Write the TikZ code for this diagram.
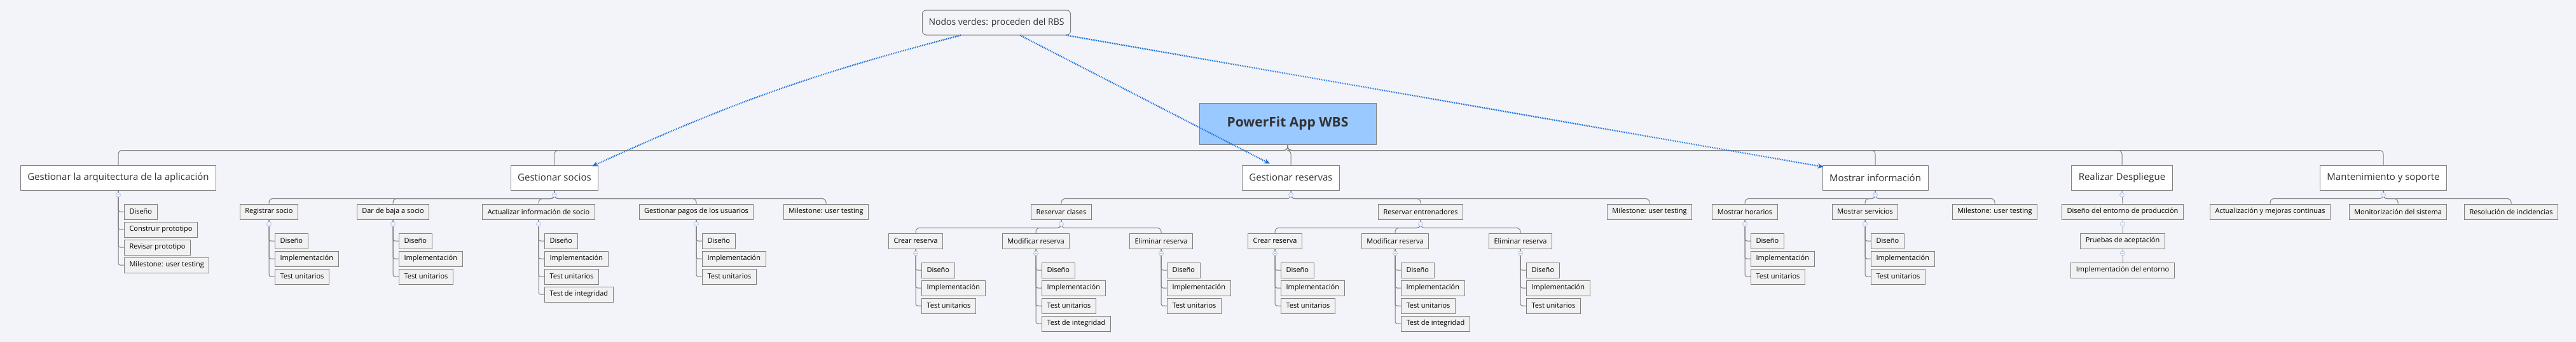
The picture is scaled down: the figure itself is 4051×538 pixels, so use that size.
\documentclass[tikz,border=0pt]{standalone}
\usepackage{fontspec}
\setmainfont{Open Sans}
\usetikzlibrary{arrows.meta}
\definecolor{bg}{HTML}{F3F4F9}
\definecolor{bord}{HTML}{7F7F7F}
\definecolor{leaffill}{HTML}{F1F1F1}
\definecolor{rootfill}{HTML}{99C9FF}
\definecolor{txt}{HTML}{333333}
\definecolor{dep}{HTML}{1A6FD8}
\definecolor{tog}{HTML}{A9BEEB}
\tikzset{
  base/.style={draw=bord,line width=1pt,inner sep=0pt},
  root/.style={base,fill=rootfill,minimum width=278pt,minimum height=65pt,font=\fontsize{21}{25}\selectfont\bfseries,text=txt},
  top/.style={base,fill=white,minimum height=39pt,inner xsep=11pt,font=\fontsize{15}{18}\selectfont,text=txt},
  mid/.style={base,fill=leaffill,minimum height=24pt,inner xsep=8pt,font=\fontsize{11}{13}\selectfont},
  leaf/.style={mid,anchor=west},
  note/.style={base,fill=bg,rounded corners=6pt,minimum height=39pt,inner xsep=10pt,font=\fontsize{14}{17}\selectfont,text=txt},
  conn/.style={draw=bord,line width=1pt,rounded corners=6pt},
  tg/.style={circle,draw=tog,fill=white,line width=0.8pt,minimum size=7pt,inner sep=0pt,
    path picture={\draw[tog,line width=0.7pt] ([xshift=-1.8pt]path picture bounding box.center)--([xshift=1.8pt]path picture bounding box.center);}},
  depa/.style={draw=dep,line width=2.2pt,dash pattern=on 1.4pt off 1.4pt,-{Stealth[length=9pt,width=8pt]}}
}
\newcommand\leafset[3]{%
  \path (#1.south) ++(9,0) coordinate (#1-x);
  \foreach \t [count=\i] in {#3}{%
    \node[leaf] (#1-\i) at (#1-x |- 0,{#2+(\i-1)*28}) {\t};
    \draw[conn,rounded corners=3pt] (#1.south) |- (#1-\i.west);
  }%
}
\begin{document}
\begin{tikzpicture}[x=1pt,y=-1pt]
\fill[bg] (0,0) rectangle (4051,538);
\useasboundingbox (0,0) rectangle (4051,538);
% nodes
\node[root] (root) at (2025,194.5) {PowerFit App WBS};
\node[note] (nodos) at (1567,35.5) {Nodos verdes: proceden del RBS};
\node[top] (T1) at (186,279.5) {Gestionar la arquitectura de la aplicación};
\node[top] (T2) at (872,279.5) {Gestionar socios};
\node[top] (T3) at (2030,279.5) {Gestionar reservas};
\node[top] (T4) at (2949,279.5) {Mostrar información};
\node[top] (T5) at (3337,279.5) {Realizar Despliegue};
\node[top] (T6) at (3748,279.5) {Mantenimiento y soporte};
\foreach \c in {T1,T2,T3,T4,T5,T6}{\draw[conn] (root.south) -- ++(0,9) -| (\c.north);}
% arquitectura
\leafset{T1}{333}{Diseño,Construir prototipo,Revisar prototipo,Milestone: user testing}
% socios
\node[mid] (S1) at (423,333) {Registrar socio};
\node[mid] (S2) at (618,333) {Dar de baja a socio};
\node[mid] (S3) at (847,333) {Actualizar información de socio};
\node[mid] (S4) at (1095,333) {Gestionar pagos de los usuarios};
\node[mid] (S5) at (1299,333) {Milestone: user testing};
\foreach \c in {S1,S2,S3,S4,S5}{\draw[conn] (T2.south) -- ++(0,13) -| (\c.north);}
\leafset{S1}{379}{Diseño,Implementación,Test unitarios}
\leafset{S2}{379}{Diseño,Implementación,Test unitarios}
\leafset{S3}{379}{Diseño,Implementación,Test unitarios,Test de integridad}
\leafset{S4}{379}{Diseño,Implementación,Test unitarios}
% reservas
\node[mid] (R1) at (1669,333) {Reservar clases};
\node[mid] (R2) at (2234,333) {Reservar entrenadores};
\node[mid] (R3) at (2594,333) {Milestone: user testing};
\foreach \c in {R1,R2,R3}{\draw[conn] (T3.south) -- ++(0,13) -| (\c.north);}
\node[mid] (R11) at (1440,379) {Crear reserva};
\node[mid] (R12) at (1629,379) {Modificar reserva};
\node[mid] (R13) at (1826,379) {Eliminar reserva};
\node[mid] (R21) at (2005,379) {Crear reserva};
\node[mid] (R22) at (2194,379) {Modificar reserva};
\node[mid] (R23) at (2391,379) {Eliminar reserva};
\foreach \c in {R11,R12,R13}{\draw[conn] (R1.south) -- ++(0,13) -| (\c.north);}
\foreach \c in {R21,R22,R23}{\draw[conn] (R2.south) -- ++(0,13) -| (\c.north);}
\leafset{R11}{425}{Diseño,Implementación,Test unitarios}
\leafset{R12}{425}{Diseño,Implementación,Test unitarios,Test de integridad}
\leafset{R13}{425}{Diseño,Implementación,Test unitarios}
\leafset{R21}{425}{Diseño,Implementación,Test unitarios}
\leafset{R22}{425}{Diseño,Implementación,Test unitarios,Test de integridad}
\leafset{R23}{425}{Diseño,Implementación,Test unitarios}
% info
\node[mid] (I1) at (2744,333) {Mostrar horarios};
\node[mid] (I2) at (2933,333) {Mostrar servicios};
\node[mid] (I3) at (3137,333) {Milestone: user testing};
\foreach \c in {I1,I2,I3}{\draw[conn] (T4.south) -- ++(0,13) -| (\c.north);}
\leafset{I1}{379}{Diseño,Implementación,Test unitarios}
\leafset{I2}{379}{Diseño,Implementación,Test unitarios}
% despliegue
\node[mid] (D1) at (3338,333) {Diseño del entorno de producción};
\node[mid] (D2) at (3338,379) {Pruebas de aceptación};
\node[mid] (D3) at (3338,425) {Implementación del entorno};
\draw[conn] (T5.south) -- (D1.north);
\draw[conn] (D1.south) -- (D2.north);
\draw[conn] (D2.south) -- (D3.north);
% mantenimiento
\node[mid] (M1) at (3570,333) {Actualización y mejoras continuas};
\node[mid] (M2) at (3771,333) {Monitorización del sistema};
\node[mid] (M3) at (3949,333) {Resolución de incidencias};
\foreach \c in {M1,M2,M3}{\draw[conn] (T6.south) -- ++(0,13) -| (\c.north);}
% toggles
\foreach \c in {T1,T2,T3,T4,T5,T6,S1,S2,S3,S4,R1,R2,R11,R12,R13,R21,R22,R23,I1,I2,D1,D2}{
  \node[tg] at ([yshift=-7pt]\c.south) {};}
% dependency arrows
\draw[depa] ([xshift=-56pt]nodos.south) to[bend right=5] ([xshift=-10pt,yshift=-2pt]T2.north east);
\draw[depa] ([xshift=37pt]nodos.south) -- ([xshift=44pt,yshift=2pt]T3.north west);
\draw[depa] ([xshift=110pt]nodos.south) -- ([xshift=2pt,yshift=-3pt]T4.north west);
\end{tikzpicture}
\end{document}
